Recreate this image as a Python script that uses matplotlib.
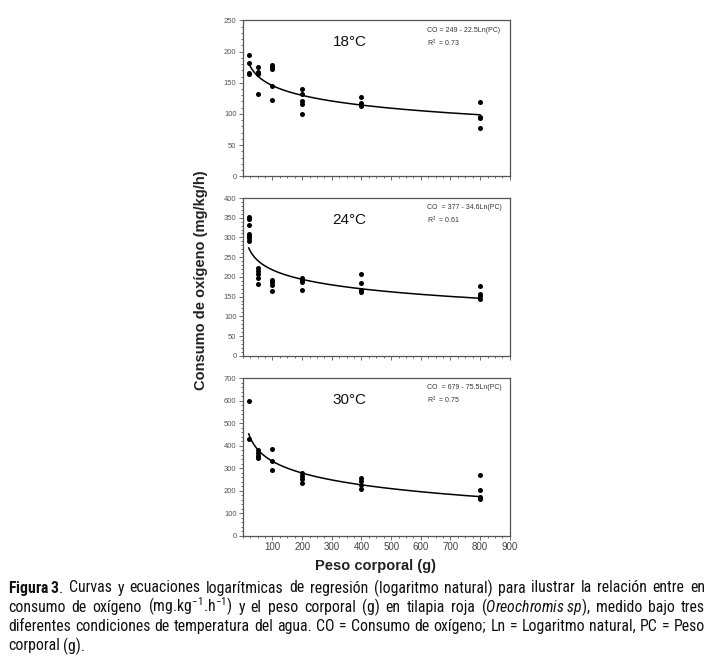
import numpy as np
import matplotlib
matplotlib.use('Agg')
import matplotlib.pyplot as plt
from matplotlib import font_manager as fm
from matplotlib.ticker import MultipleLocator, AutoMinorLocator

# body weight (g) and oxygen consumption (mg/kg/h)
peso_18 = [20, 20, 20, 20, 50, 50, 50, 50, 100, 100, 100, 100, 100,
           200, 200, 200, 200, 200, 400, 400, 400, 800, 800, 800, 800]
co_18 = [195, 181, 165, 164, 175, 167, 164, 132, 179, 175, 172, 145, 122,
         140, 132, 121, 116, 100, 127, 118, 113, 119, 95, 93, 78]

peso_24 = [20, 20, 20, 20, 20, 20, 20, 50, 50, 50, 50, 50, 100, 100, 100, 100,
           200, 200, 200, 200, 400, 400, 400, 400, 800, 800, 800, 800]
co_24 = [351, 347, 332, 309, 303, 298, 292, 222, 214, 207, 197, 183,
         193, 186, 180, 163, 197, 193, 186, 167, 208, 184, 167, 162,
         176, 157, 152, 145]

peso_30 = [20, 20, 50, 50, 50, 50, 100, 100, 100, 200, 200, 200, 200,
           400, 400, 400, 400, 800, 800, 800, 800]
co_30 = [598, 431, 381, 366, 356, 345, 385, 333, 292, 281, 266, 254, 233,
         259, 244, 225, 207, 269, 202, 172, 165]

# regression coefficients printed in each panel: CO = a - b*Ln(PC)
coef_a = [249, 377, 679]
coef_b = [22.5, 34.6, 75.5]
r2 = [0.73, 0.61, 0.75]

temps = ['18°C', '24°C', '30°C']
y_max = [250, 400, 700]
y_step = [50, 50, 100]
x_ticks = [100, 200, 300, 400, 500, 600, 700, 800, 900]


def pick_font(names, fallback):
    for name in names:
        try:
            fm.findfont(fm.FontProperties(family=name), fallback_to_default=False)
            return name
        except Exception:
            pass
    return fallback


narrow = pick_font(['Liberation Sans Narrow', 'Roboto Condensed', 'Noto Sans Condensed',
                    'Open Sans Condensed', 'DejaVu Sans Condensed'], 'Liberation Sans')
plt.rcParams['font.family'] = ['Liberation Sans', 'DejaVu Sans']
plt.rcParams['mathtext.fontset'] = 'custom'
plt.rcParams['mathtext.rm'] = narrow
plt.rcParams['mathtext.it'] = narrow + ':italic'
plt.rcParams['mathtext.bf'] = narrow + ':bold'

fig = plt.figure(figsize=(7.12, 6.6), dpi=100)

boxes = [[0.341, 0.733, 0.375, 0.236],
         [0.341, 0.461, 0.375, 0.239],
         [0.341, 0.188, 0.375, 0.239]]
datos = [(peso_18, co_18), (peso_24, co_24), (peso_30, co_30)]

for i, (px, py) in enumerate(datos):
    ax = fig.add_axes(boxes[i])
    ax.scatter(px, py, s=13, color='black', zorder=3, linewidths=0)

    xc = np.linspace(min(px), max(px), 200)
    ax.plot(xc, coef_a[i] - coef_b[i] * np.log(xc), color='black', lw=1.1)

    ax.set_xlim(0, 900)
    ax.set_ylim(0, y_max[i])
    ax.set_xticks(x_ticks)
    ax.yaxis.set_major_locator(MultipleLocator(y_step[i]))
    ax.yaxis.set_minor_locator(AutoMinorLocator(5))
    ax.xaxis.set_minor_locator(AutoMinorLocator(4))
    ax.tick_params(which='both', direction='out', color='#555555', width=0.6)
    ax.tick_params(which='major', length=3, labelsize=5.5, labelcolor='#555555', pad=1.5)
    ax.tick_params(which='minor', length=1.5)
    if i < 2:
        ax.tick_params(axis='x', labelbottom=False)
    else:
        ax.tick_params(axis='x', labelsize=7, labelcolor='#444444')
    for sp in ax.spines.values():
        sp.set_color('#555555')
        sp.set_linewidth(0.9)

    sep = ' = ' if i == 0 else '  = '
    ecuacion = 'CO' + sep + f'{coef_a[i]} - {coef_b[i]}Ln(PC)\nR$^2$  = {r2[i]:.2f}'
    ax.text(0.40, 0.86, temps[i], transform=ax.transAxes, fontsize=11,
            ha='center', va='center', color='#111111')
    ax.text(0.69, 0.96, ecuacion, transform=ax.transAxes, fontsize=5,
            ha='left', va='top', color='#333333', linespacing=1.4)

fig.text(0.282, 0.576, 'Consumo de oxígeno (mg/kg/h)', rotation=90,
         ha='center', va='center', fontsize=10.5, fontweight='bold', color='#222222')
fig.text(0.527, 0.143, 'Peso corporal (g)', ha='center', va='center',
         fontsize=10.5, fontweight='bold', color='#222222')

caption = [
    r'$\mathbf{Figura\;3}$. Curvas y ecuaciones logarítmicas de regresión (logaritmo natural) para ilustrar la relación entre en',
    r'consumo de oxígeno (mg.kg$^{-1}$.h$^{-1}$) y el peso corporal (g) en tilapia roja ($\mathit{Oreochromis\;sp}$), medido bajo tres',
    'diferentes condiciones de temperatura del agua. CO = Consumo de oxígeno; Ln = Logaritmo natural, PC = Peso',
    'corporal (g).',
]

# justified caption: measure words, then spread them between the margins
x_left, x_right = 8, 705
renderer = fig.canvas.get_renderer()
cap_size = 10.2


def word_widths(words, size):
    out = []
    for w in words:
        t = fig.text(0, 0, w, fontsize=size, family=[narrow, 'DejaVu Sans'])
        out.append(t.get_window_extent(renderer).width)
        t.remove()
    return out


def line_width(line, size):
    words = line.split(' ')
    sp = word_widths(['a b'], size)[0] - word_widths(['ab'], size)[0]
    return sum(word_widths(words, size)) + sp * 1.25 * (len(words) - 1)


longest = max(line_width(l, cap_size) for l in caption[:3])
cap_size = min(11.5, cap_size * (x_right - x_left) / longest)
space_w = word_widths(['a b'], cap_size)[0] - word_widths(['ab'], cap_size)[0]

for k, line in enumerate(caption):
    words = line.split(' ')
    widths = word_widths(words, cap_size)
    if k < 3:
        gap = (x_right - x_left - sum(widths)) / (len(words) - 1)
    else:
        gap = space_w
    y = 1 - (588 + 19.3 * k) / 660
    xpos = x_left
    for w, wd in zip(words, widths):
        fig.text(xpos / 712, y, w, ha='left', va='center', fontsize=cap_size,
                 family=[narrow, 'DejaVu Sans'], color='#111111')
        xpos += wd + gap

fig.savefig('out.png', dpi=100, facecolor='white')
